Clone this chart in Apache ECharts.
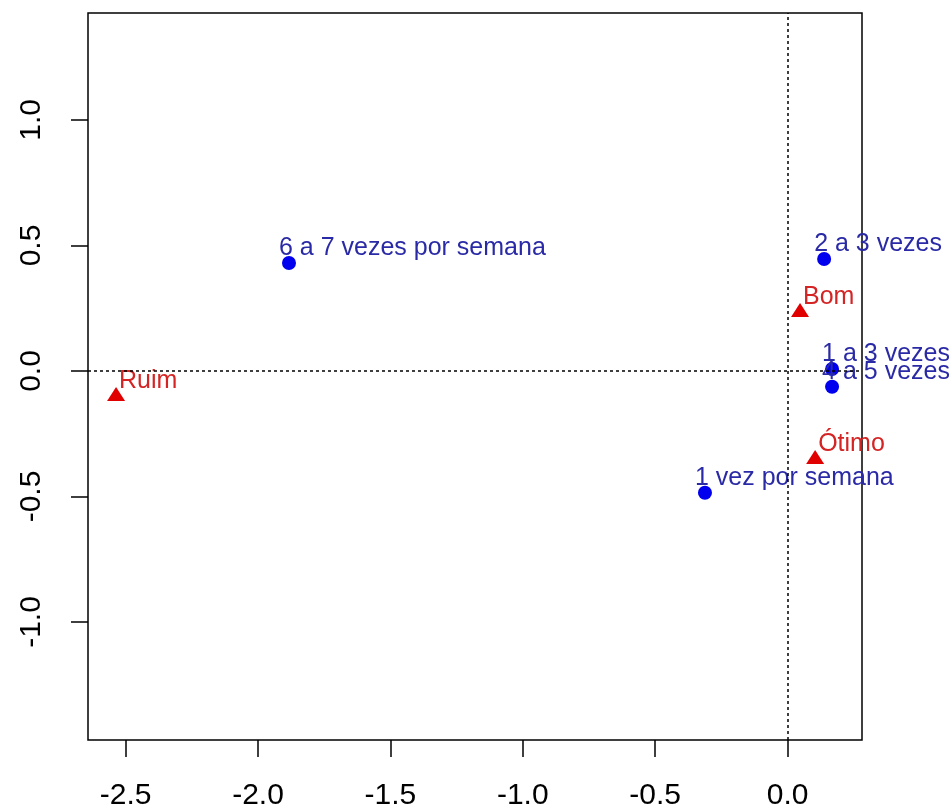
<!DOCTYPE html>
<html>
<head>
<meta charset="utf-8">
<title>Mapa de correspondência</title>
<script src="https://cdn.jsdelivr.net/npm/echarts@6/dist/echarts.min.js"></script>
<style>
  html, body { margin: 0; padding: 0; background: #fff; }
  #chart { width: 949px; height: 811px; }
</style>
</head>
<body>
<div id="chart"></div>
<script>
// Frequency categories (row points) and their coordinates on the two dimensions
const freqNames = ['6 a 7 vezes por semana', '2 a 3 vezes', '1 a 3 vezes', '4 a 5 vezes', '1 vez por semana'];
const freqDim1 = [-1.883, 0.138, 0.168, 0.168, -0.312];
const freqDim2 = [0.430, 0.446, 0.008, -0.063, -0.485];

// Rating categories (column points)
const ratingNames = ['Ruim', 'Bom', 'Ótimo'];
const ratingDim1 = [-2.536, 0.047, 0.104];
const ratingDim2 = [-0.092, 0.243, -0.343];

// Tick values for both axes
const xTicks = [-2.5, -2.0, -1.5, -1.0, -0.5, 0.0];
const yTicks = [-1.0, -0.5, 0.0, 0.5, 1.0];

const FONT = 'Liberation Sans, Arial, sans-serif';

function toPoints(names, d1, d2) {
  return names.map((n, i) => ({ name: n, value: [d1[i], d2[i]] }));
}

const chart = echarts.init(document.getElementById('chart'), null, { renderer: 'canvas' });

const tickStyle = { show: true, length: 17, lineStyle: { color: '#000', width: 1.5 } };
const fmt = v => v.toFixed(1);

chart.setOption({
  backgroundColor: '#fff',
  animation: false,
  grid: {
    left: 88, top: 13, right: 87, bottom: 71,
    show: true, borderColor: '#000', borderWidth: 1.5, backgroundColor: 'transparent'
  },
  xAxis: {
    type: 'value',
    position: 'bottom',
    min: -2.642, max: 0.281,
    axisLine: { show: false, onZero: false },
    splitLine: { show: false },
    axisTick: Object.assign({ customValues: xTicks }, tickStyle),
    axisLabel: {
      customValues: xTicks, formatter: fmt, margin: 41,
      fontFamily: FONT, fontSize: 30, color: '#000'
    }
  },
  yAxis: {
    type: 'value',
    position: 'left',
    min: -1.470, max: 1.426,
    axisLine: { show: false, onZero: false },
    splitLine: { show: false },
    axisTick: Object.assign({ customValues: yTicks }, tickStyle),
    axisLabel: {
      customValues: yTicks, formatter: fmt, margin: 41, rotate: 90,
      fontFamily: FONT, fontSize: 30, color: '#000'
    }
  },
  series: [
    {
      name: 'Frequência',
      type: 'scatter',
      symbol: 'circle',
      symbolSize: 14,
      itemStyle: { color: '#0000ee', opacity: 1 },
      data: toPoints(freqNames, freqDim1, freqDim2),
      label: {
        show: true, position: 'inside', align: 'left', verticalAlign: 'middle',
        offset: [-10, -15], formatter: p => p.name,
        fontFamily: FONT, fontSize: 25, color: '#2a2aa6'
      },
      markLine: {
        silent: true,
        symbol: 'none',
        label: { show: false },
        lineStyle: { color: '#000', width: 1.5, type: [3, 3], opacity: 1 },
        data: [{ xAxis: 0 }, { yAxis: 0 }]
      },
      z: 3
    },
    {
      name: 'Avaliação',
      type: 'scatter',
      symbol: 'triangle',
      symbolSize: [18, 14],
      itemStyle: { color: '#e00000', opacity: 1 },
      data: toPoints(ratingNames, ratingDim1, ratingDim2),
      label: {
        show: true, position: 'inside', align: 'left', verticalAlign: 'middle',
        offset: [3, -13], formatter: p => p.name,
        fontFamily: FONT, fontSize: 25, color: '#d42424'
      },
      z: 3
    }
  ]
});
</script>
</body>
</html>
